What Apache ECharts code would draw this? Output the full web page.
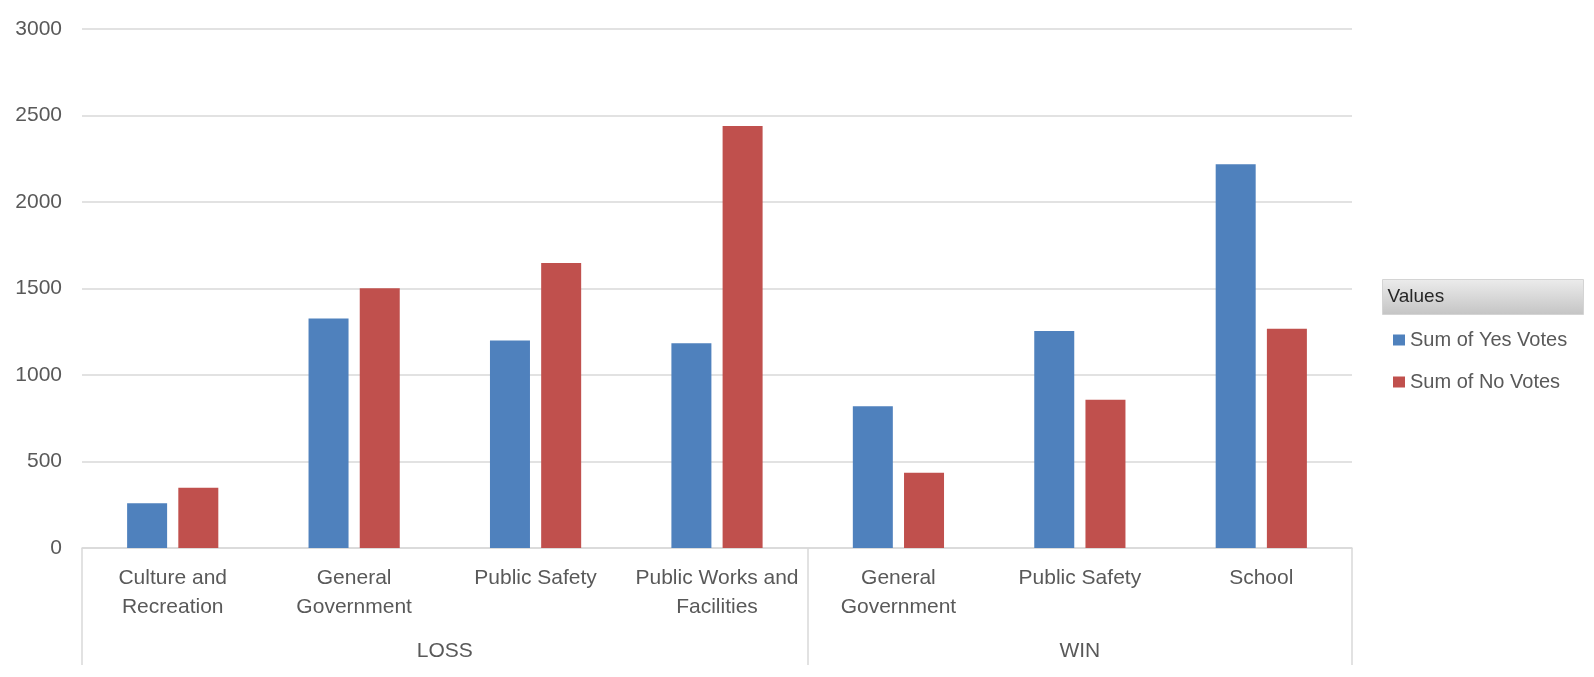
<!DOCTYPE html>
<html>
<head>
<meta charset="utf-8">
<script src="https://cdn.jsdelivr.net/npm/echarts@6/dist/echarts.min.js"></script>
<style>
html,body{margin:0;padding:0;background:#fff;}
#chart{width:1594px;height:677px;}
</style>
</head>
<body>
<div id="chart"></div>
<script>
// Data
var categories = ['Culture and\nRecreation', 'General\nGovernment', 'Public Safety', 'Public Works and\nFacilities', 'General\nGovernment', 'Public Safety', 'School'];
var groups = ['LOSS', 'WIN'];
var groupSizes = [4, 3];
var yesVotes = [258, 1326, 1199, 1183, 820, 1255, 2218];
var noVotes = [348, 1502, 1647, 2440, 435, 857, 1268];
var yTicks = [0, 500, 1000, 1500, 2000, 2500, 3000];

// group boundaries and centres in category units
var bounds = [0];
var centres = [];
groupSizes.forEach(function (n, i) {
  var start = bounds[bounds.length - 1];
  bounds.push(start + n);
  centres.push(start + n / 2);
});
var total = bounds[bounds.length - 1];

var chart = echarts.init(document.getElementById('chart'));
var FONT = '"Liberation Sans", Arial, sans-serif';
var TXT = '#595959';

chart.setOption({
  animation: false,
  textStyle: { fontFamily: FONT },
  grid: { left: 82, right: 242, top: 29, bottom: 129, containLabel: false },
  xAxis: [
    {
      type: 'category',
      data: categories,
      axisLine: { show: true, lineStyle: { color: '#d9d9d9', width: 1.5 } },
      axisTick: { show: false },
      axisLabel: { color: TXT, fontSize: 21, lineHeight: 29, margin: 16, interval: 0, fontFamily: FONT }
    },
    {
      type: 'value',
      position: 'bottom',
      min: 0,
      max: total,
      axisLine: { show: false },
      splitLine: { show: false },
      axisTick: { show: true, customValues: bounds, length: 117, lineStyle: { color: '#d9d9d9', width: 1.5 } },
      axisLabel: {
        show: true,
        customValues: centres,
        margin: 93,
        color: TXT,
        fontSize: 21,
        fontFamily: FONT,
        formatter: function (v) {
          var i = centres.indexOf(v);
          return i >= 0 ? groups[i] : '';
        }
      }
    }
  ],
  yAxis: {
    type: 'value',
    min: yTicks[0],
    max: yTicks[yTicks.length - 1],
    interval: yTicks[1] - yTicks[0],
    axisLine: { show: false },
    axisTick: { show: false },
    splitLine: { lineStyle: { color: '#d9d9d9', width: 1.5 } },
    axisLabel: {
      color: TXT, fontSize: 21, margin: 20, fontFamily: FONT,
      formatter: function (v) { return String(v); }
    }
  },
  legend: {
    orient: 'vertical',
    left: 1388,
    top: 324,
    itemWidth: 12,
    itemHeight: 11,
    itemGap: 20,
    icon: 'rect',
    textStyle: { color: TXT, fontSize: 20, lineHeight: 22, fontFamily: FONT },
    data: ['Sum of Yes Votes', 'Sum of No Votes']
  },
  graphic: [
    {
      type: 'group',
      left: 1382,
      top: 279,
      children: [
        {
          type: 'rect',
          shape: { x: 0, y: 0, width: 201, height: 35 },
          style: {
            fill: new echarts.graphic.LinearGradient(0, 0, 0, 1, [
              { offset: 0, color: '#ececec' },
              { offset: 1, color: '#c4c4c4' }
            ]),
            stroke: '#d4d4d4',
            lineWidth: 1
          }
        },
        {
          type: 'text',
          x: 5,
          y: 17.5,
          style: { text: 'Values', fill: '#262626', font: '19px ' + FONT, textVerticalAlign: 'middle' }
        }
      ]
    }
  ],
  series: [
    {
      name: 'Sum of Yes Votes',
      type: 'bar',
      xAxisIndex: 0,
      data: yesVotes,
      barWidth: 40,
      barGap: '28%',
      itemStyle: { color: '#4f81bd' }
    },
    {
      name: 'Sum of No Votes',
      type: 'bar',
      xAxisIndex: 0,
      data: noVotes,
      barWidth: 40,
      barGap: '28%',
      itemStyle: { color: '#c0504d' }
    }
  ]
});
</script>
</body>
</html>
